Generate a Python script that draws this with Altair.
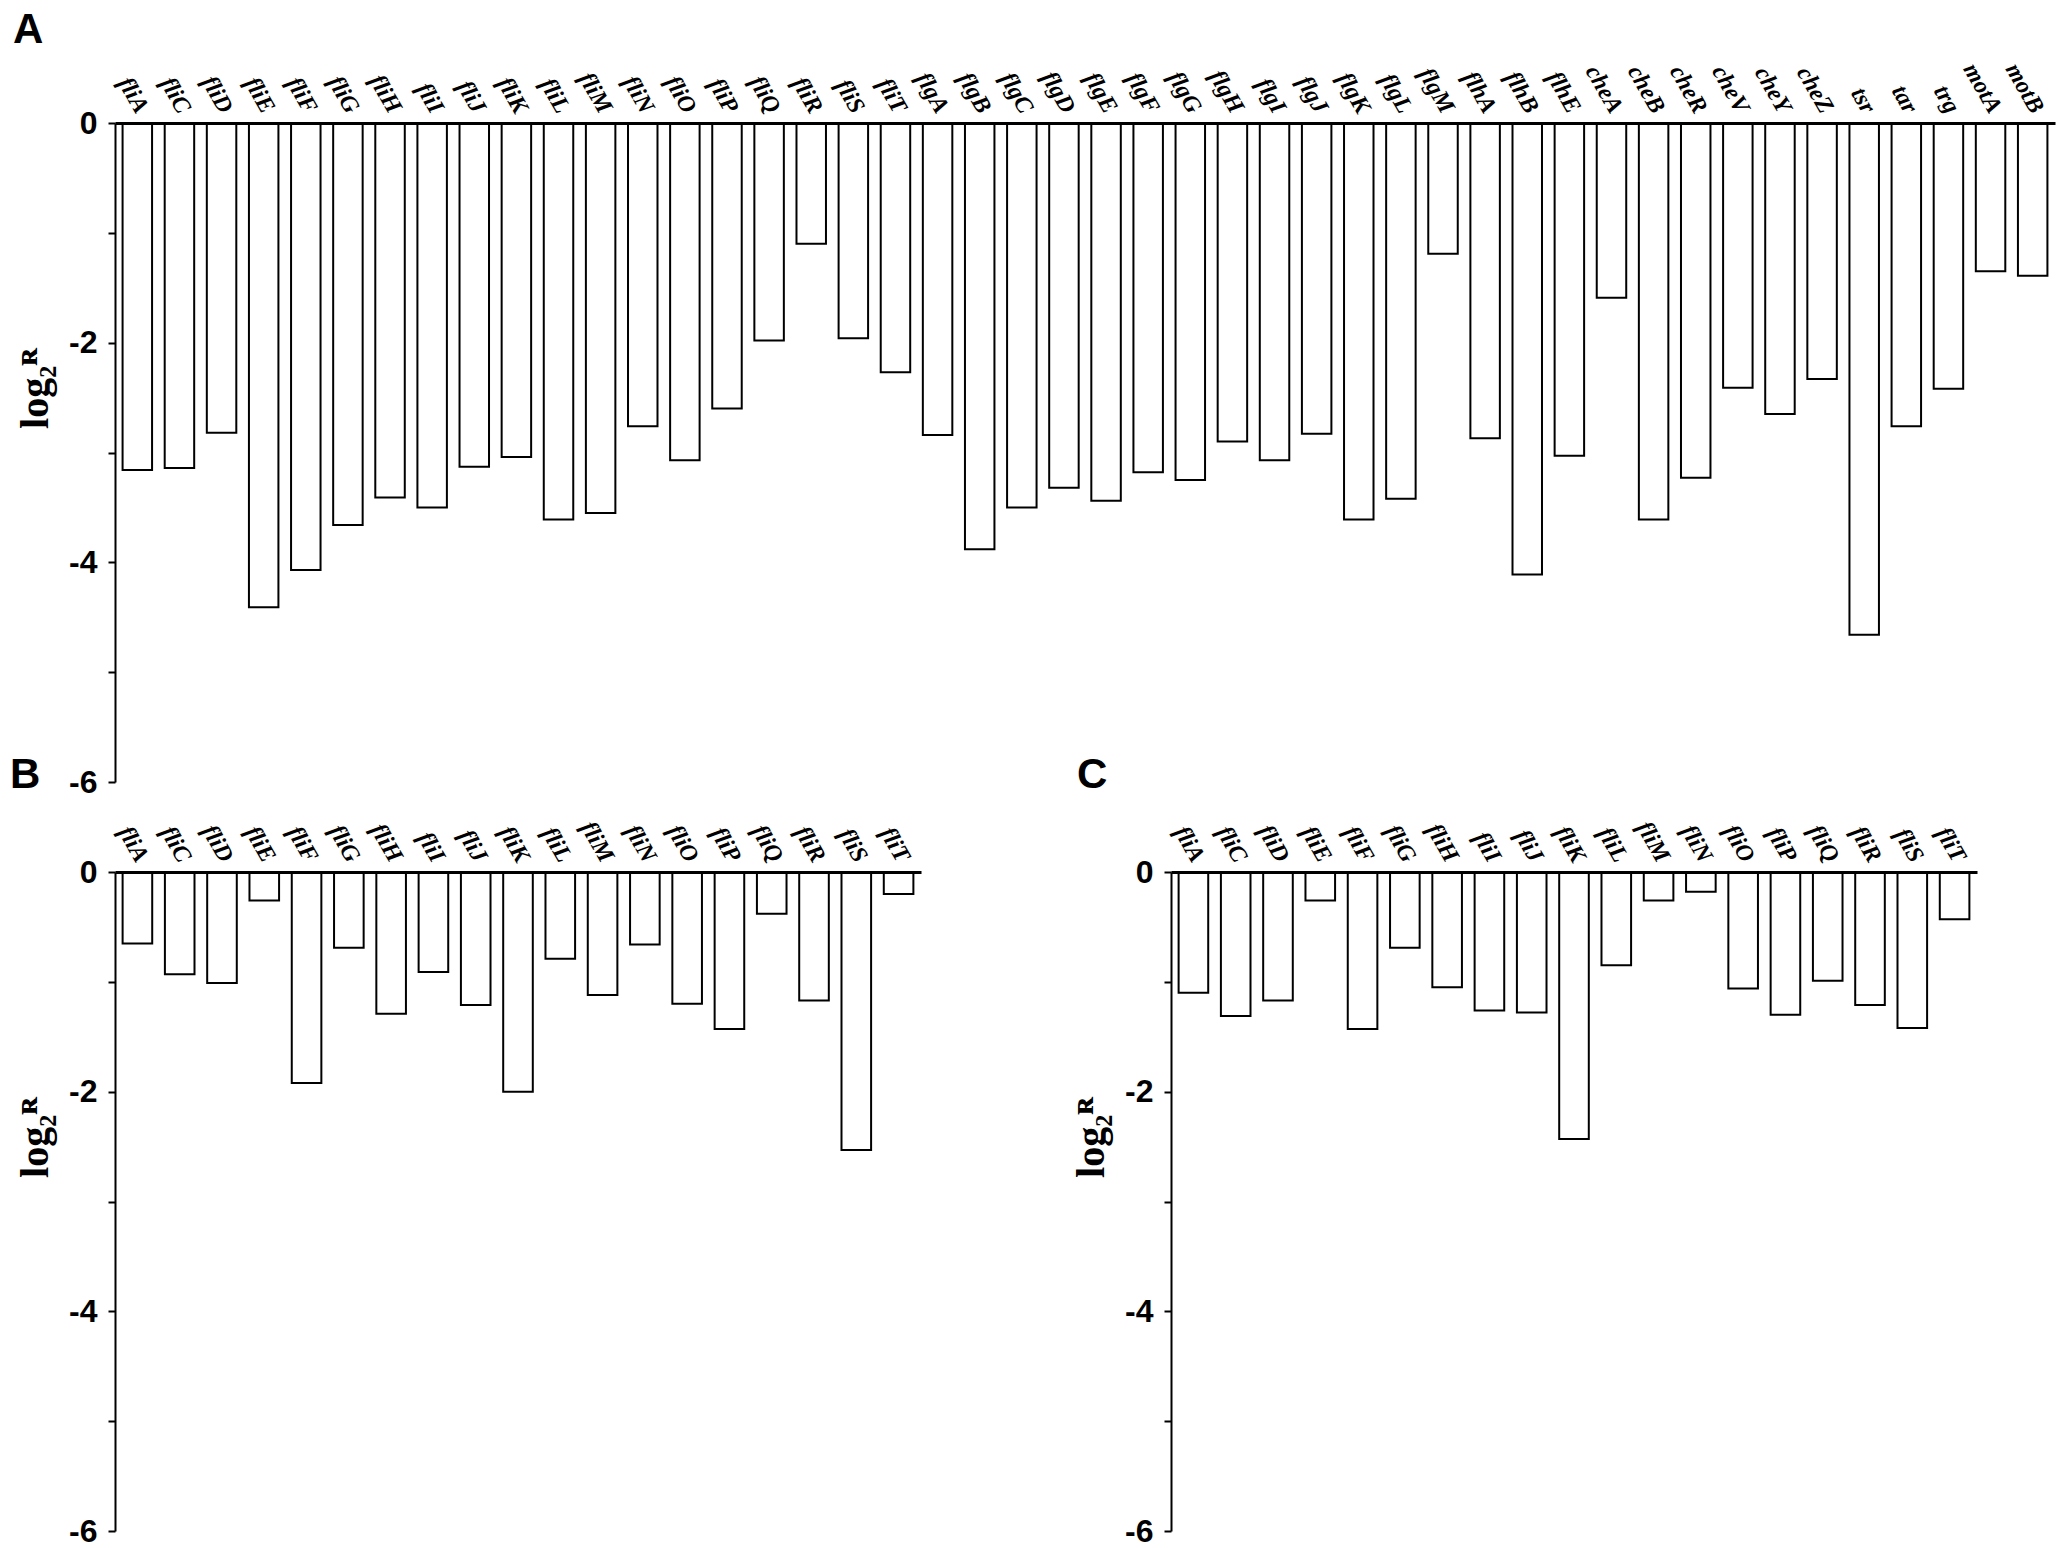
import altair as alt
import pandas as pd

genes_a = ["fliA", "fliC", "fliD", "fliE", "fliF", "fliG", "fliH", "fliI", "fliJ", "fliK",
           "fliL", "fliM", "fliN", "fliO", "fliP", "fliQ", "fliR", "fliS", "fliT",
           "flgA", "flgB", "flgC", "flgD", "flgE", "flgF", "flgG", "flgH", "flgI", "flgJ",
           "flgK", "flgL", "flgM", "flhA", "flhB", "flhE",
           "cheA", "cheB", "cheR", "cheV", "cheY", "cheZ", "tsr", "tar", "trg", "motA", "motB"]
values_a = [-3.16, -3.14, -2.82, -4.41, -4.07, -3.66, -3.41, -3.50, -3.13, -3.04,
            -3.61, -3.55, -2.76, -3.07, -2.60, -1.98, -1.10, -1.96, -2.27,
            -2.84, -3.88, -3.50, -3.32, -3.44, -3.18, -3.25, -2.90, -3.07, -2.83,
            -3.61, -3.42, -1.19, -2.87, -4.11, -3.03,
            -1.59, -3.61, -3.23, -2.41, -2.65, -2.33, -4.66, -2.76, -2.42, -1.35, -1.39]

genes_bc = ["fliA", "fliC", "fliD", "fliE", "fliF", "fliG", "fliH", "fliI", "fliJ", "fliK",
            "fliL", "fliM", "fliN", "fliO", "fliP", "fliQ", "fliR", "fliS", "fliT"]
values_b = [-0.65, -0.93, -1.01, -0.26, -1.92, -0.69, -1.29, -0.91, -1.21, -2.00,
            -0.79, -1.12, -0.66, -1.20, -1.43, -0.38, -1.17, -2.53, -0.20]
values_c = [-1.10, -1.31, -1.17, -0.26, -1.43, -0.69, -1.05, -1.26, -1.28, -2.43,
            -0.85, -0.26, -0.18, -1.06, -1.30, -0.99, -1.21, -1.42, -0.43]

y_ticks = [-6, -5, -4, -3, -2, -1, 0]


def panel(genes, values, letter, width, title_dx, title_offset):
    df = pd.DataFrame({"gene": genes, "value": values})
    return alt.Chart(
        df,
        title=alt.TitleParams(
            letter, anchor="start", frame="group", dx=title_dx, offset=title_offset,
            font="Liberation Sans", fontSize=42, fontWeight="bold", color="black",
        ),
    ).mark_bar(fill="white", stroke="black", strokeWidth=2).encode(
        x=alt.X(
            "gene:N", sort=genes,
            scale=alt.Scale(paddingInner=0.3, paddingOuter=0.18),
            axis=alt.Axis(
                orient="top", title=None, ticks=False, domainColor="black", domainWidth=3,
                labelAngle=60, labelAlign="right", labelBaseline="middle",
                labelFont="Liberation Serif", labelFontStyle="italic", labelFontWeight="bold",
                labelFontSize=24, labelColor="black", labelPadding=12, labelOffset=5,
                zindex=1,
            ),
        ),
        y=alt.Y(
            "value:Q",
            scale=alt.Scale(domain=[-6, 0], nice=False, zero=True),
            axis=alt.Axis(
                values=y_ticks, grid=False, domainColor="black", domainWidth=2,
                tickColor="black", tickWidth=2, tickSize=7,
                labelExpr="datum.value % 2 == 0 ? '' + datum.value : ''",
                labelFont="Liberation Sans", labelFontWeight="bold", labelFontSize=32,
                labelColor="black", labelPadding=11,
                title="log₂ᴿ", titleFont="Liberation Serif", titleFontWeight="bold",
                titleFontSize=40, titleColor="black", titleAngle=270,
                titleX=-80, titleY=265, titleAlign="center", titleBaseline="middle",
                zindex=1,
            ),
        ),
    ).properties(width=width, height=659)


a = panel(genes_a, values_a, "A", 1940, -102, 7)
b = panel(genes_bc, values_b, "B", 806, -105, 20)
c = panel(genes_bc, values_c, "C", 806, -94, 20)

chart = alt.vconcat(
    a,
    alt.hconcat(b, c, spacing=250, bounds="flush"),
    spacing=90, bounds="flush",
).properties(
    padding={"left": 2, "top": 0, "right": 5, "bottom": 0}
).configure(background="white").configure_view(stroke=None)

chart.save("out.html", embed_options={"renderer": "svg", "actions": False})
